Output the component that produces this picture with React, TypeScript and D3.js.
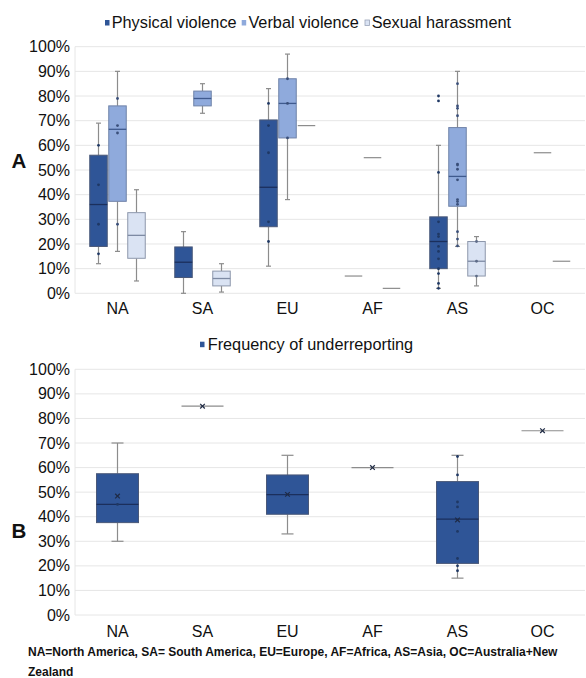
import React from "react";
import * as d3 from "d3";

const categories = ["NA", "SA", "EU", "AF", "AS", "OC"];
const yTicks = [0, 10, 20, 30, 40, 50, 60, 70, 80, 90, 100];
const seriesNames = ["Physical violence", "Verbal violence", "Sexual harassment"];
const seriesFill = ["#2F5597", "#8FAADC", "#DAE3F3"];
const seriesMedian = ["#1B2F5C", "#3F5A8E", "#7D8AA3"];
const seriesPoint = ["#1F3864", "#3A4F7A", "#5E6C88"];

// five-number summaries [min, q1, median, q3, max] per category
const physicalBox = [
  [12, 19, 36, 56, 69],
  [0, 6.4, 12.6, 18.8, 25],
  [11, 27, 43, 70.3, 83],
  [7, 7, 7, 7, 7],
  [2, 10, 21, 31, 60],
  null,
];
const physicalPts = [
  [60, 44, 28, 16],
  [],
  [77, 68, 57, 29, 21],
  [],
  [80, 78, 49, 29, 24, 23, 19, 17, 14, 10, 8, 4, 2],
  [],
];
const verbalBox = [
  [17, 37.3, 66.5, 76, 90],
  [73, 76, 79, 82, 85],
  [38, 63, 77, 87, 97],
  [55, 55, 55, 55, 55],
  [19, 35.3, 47.4, 67.2, 90],
  [57, 57, 57, 57, 57],
];
const verbalPts = [
  [79, 68, 65, 28],
  [],
  [87, 77, 63],
  [],
  [85, 76, 75, 72, 52.4, 52, 50.3, 46, 38, 37.2, 36.1, 25, 22, 19.2],
  [],
];
const sexualBox = [
  [5, 14.2, 23.5, 32.7, 42],
  [0.5, 3, 6, 9, 12],
  [68, 68, 68, 68, 68],
  [2, 2, 2, 2, 2],
  [3, 7, 13, 21, 23],
  [13, 13, 13, 13, 13],
];
const sexualPts = [[], [], [], [], [21, 13, 7], []];

const underName = "Frequency of underreporting";
const underBox = [
  [30, 37.6, 45, 57.5, 70],
  [85, 85, 85, 85, 85],
  [33, 41, 49, 57, 65],
  [60, 60, 60, 60, 60],
  [15, 21, 39, 54.3, 65],
  [75, 75, 75, 75, 75],
];
const underMean = [48.4, 85, 49.1, 60, 38.7, 75];
const underPts = [[45], [], [], [], [64.5, 57, 46, 44, 34, 23, 20, 18], []];

const footnote1 = "NA=North America, SA= South America, EU=Europe, AF=Africa, AS=Asia, OC=Australia+New";
const footnote2 = "Zealand";

const W = 586;
const H = 678;
const plotLeft = 75;
const plotRight = 585;
const FONT = "'Liberation Sans', Arial, Helvetica, sans-serif";

type Box = number[] | null;

function BoxMark({ cx, w, box, fill, median, stroke, capW }: { cx: number; w: number; box: Box; fill: string; median: string; stroke: string; capW: number; y: d3.ScaleLinear<number, number> } & any) {
  return null;
}

function renderBox(
  key: string,
  cx: number,
  w: number,
  box: Box,
  y: d3.ScaleLinear<number, number>,
  fill: string,
  medianColor: string,
  boxStroke: string,
  capW: number
) {
  if (!box) return null;
  const [mn, q1, md, q3, mx] = box;
  const whisker = "#8C8C8C";
  if (mn === mx) {
    return (
      <line key={key} x1={cx - w / 2} x2={cx + w / 2} y1={y(md)} y2={y(md)} stroke={whisker} strokeWidth={1.2} />
    );
  }
  return (
    <g key={key}>
      <line x1={cx} x2={cx} y1={y(mx)} y2={y(q3)} stroke={whisker} strokeWidth={1.2} />
      <line x1={cx} x2={cx} y1={y(q1)} y2={y(mn)} stroke={whisker} strokeWidth={1.2} />
      <line x1={cx - capW / 2} x2={cx + capW / 2} y1={y(mx)} y2={y(mx)} stroke={whisker} strokeWidth={1.2} />
      <line x1={cx - capW / 2} x2={cx + capW / 2} y1={y(mn)} y2={y(mn)} stroke={whisker} strokeWidth={1.2} />
      <rect x={cx - w / 2} y={y(q3)} width={w} height={y(q1) - y(q3)} fill={fill} stroke={boxStroke} strokeWidth={1} />
      <line x1={cx - w / 2} x2={cx + w / 2} y1={y(md)} y2={y(md)} stroke={medianColor} strokeWidth={1.3} />
    </g>
  );
}

function Grid({ y, x0, x1 }: { y: d3.ScaleLinear<number, number>; x0: number; x1: number }) {
  return (
    <g>
      {yTicks.map((t) => (
        <line key={t} x1={x0} x2={x1} y1={y(t)} y2={y(t)} stroke="#E6E6E6" strokeWidth={1} />
      ))}
      <line x1={x0} x2={x0} y1={y(100)} y2={y(0)} stroke="#E6E6E6" strokeWidth={1} />
      {yTicks.map((t) => (
        <text key={"l" + t} x={70} y={y(t)} dy="0.35em" textAnchor="end" fontSize={16} fontFamily={FONT} fill="#111">
          {t + "%"}
        </text>
      ))}
    </g>
  );
}

export default function App() {
  const x = d3.scaleBand<string>().domain(categories).range([plotLeft, plotRight]);
  const yA = d3.scaleLinear().domain([0, 100]).range([293.3, 46.7]);
  const yB = d3.scaleLinear().domain([0, 100]).range([615, 369.3]);
  const bw = x.bandwidth();
  const offsets = [-19, 0, 19];
  const topW = 17.5;
  const boxesA = [physicalBox, verbalBox, sexualBox];
  const ptsA = [physicalPts, verbalPts, sexualPts];
  const strokesA = ["#4A5878", "#6F82A8", "#8D97AB"];

  const legendX = [105, 241.7, 365];

  return (
    <svg width={W} height={H} style={{ position: "absolute", left: 0, top: 0, background: "#fff" }} fontFamily={FONT}>
      <rect x={0} y={0} width={W} height={H} fill="#fff" />
      {/* Legend A */}
      {seriesNames.map((n, i) => (
        <g key={n}>
          <rect x={legendX[i]} y={20} width={4.5} height={5.5} fill={seriesFill[i]} stroke={i === 2 ? "#9AA4B8" : "none"} strokeWidth={0.8} />
          <text x={legendX[i] + 6.7} y={28.3} fontSize={16.3} fill="#111">
            {n}
          </text>
        </g>
      ))}
      <Grid y={yA} x0={plotLeft} x1={plotRight} />
      {categories.map((c, ci) =>
        boxesA.map((arr, si) =>
          renderBox(
            `a-${ci}-${si}`,
            (x(c) as number) + bw / 2 + offsets[si],
            topW,
            arr[ci],
            yA,
            seriesFill[si],
            seriesMedian[si],
            strokesA[si],
            5
          )
        )
      )}
      {categories.map((c, ci) =>
        ptsA.map((arr, si) =>
          arr[ci].map((v, pi) => (
            <circle
              key={`p-${ci}-${si}-${pi}`}
              cx={(x(c) as number) + bw / 2 + offsets[si]}
              cy={yA(v)}
              r={1.4}
              fill={seriesPoint[si]}
            />
          ))
        )
      )}
      {categories.map((c) => (
        <text key={"xa" + c} x={(x(c) as number) + bw / 2} y={308} dy="0.35em" textAnchor="middle" fontSize={16} fill="#111">
          {c}
        </text>
      ))}
      <text x={11.5} y={168.3} fontSize={20.5} fontWeight="bold" fill="#111">
        A
      </text>

      {/* Panel B */}
      <rect x={200} y={341.7} width={4.5} height={5.5} fill="#2F5597" />
      <text x={207.7} y={350} fontSize={16.3} fill="#111">
        {underName}
      </text>
      <Grid y={yB} x0={plotLeft} x1={plotRight} />
      {categories.map((c, ci) =>
        renderBox(`b-${ci}`, (x(c) as number) + bw / 2, 42, underBox[ci], yB, "#2F5597", "#1B2F5C", "#4A5878", 12)
      )}
      {categories.map((c, ci) =>
        underPts[ci].map((v, pi) => (
          <circle key={`bp-${ci}-${pi}`} cx={(x(c) as number) + bw / 2} cy={yB(v)} r={1.4} fill="#1F3864" />
        ))
      )}
      {categories.map((c, ci) => {
        const cx = (x(c) as number) + bw / 2;
        const cy = yB(underMean[ci]);
        const s = 2.3;
        return (
          <g key={"m" + c} stroke="#1F2A44" strokeWidth={1.2}>
            <line x1={cx - s} x2={cx + s} y1={cy - s} y2={cy + s} />
            <line x1={cx - s} x2={cx + s} y1={cy + s} y2={cy - s} />
          </g>
        );
      })}
      {categories.map((c) => (
        <text key={"xb" + c} x={(x(c) as number) + bw / 2} y={631} dy="0.35em" textAnchor="middle" fontSize={16} fill="#111">
          {c}
        </text>
      ))}
      <text x={11.5} y={537.5} fontSize={20.5} fontWeight="bold" fill="#111">
        B
      </text>

      <text x={28} y={656} fontSize={12} fontWeight="bold" fill="#111">
        {footnote1}
      </text>
      <text x={28} y={676} fontSize={12} fontWeight="bold" fill="#111">
        {footnote2}
      </text>
    </svg>
  );
}
